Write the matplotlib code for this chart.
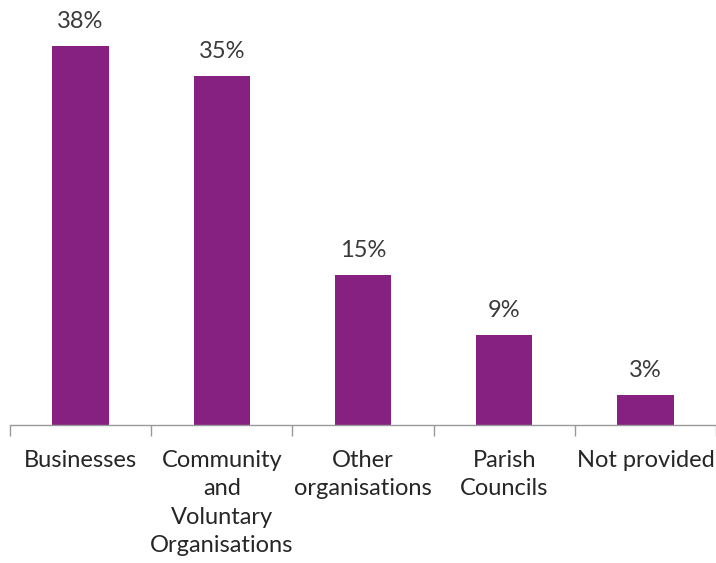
import matplotlib.pyplot as plt
import numpy as np

categories = ["Businesses", "Community\nand\nVoluntary\nOrganisations",
              "Other\norganisations", "Parish\nCouncils", "Not provided"]
shares = [38, 35, 15, 9, 3]

plt.rcParams['font.family'] = ['Lato', 'DejaVu Sans']

fig = plt.figure(figsize=(7.16, 5.63), dpi=100)
ax = fig.add_axes([10 / 716, 138 / 563, 706 / 716, 399 / 563])

x = np.arange(len(categories))
bars = ax.bar(x, shares, width=0.40, color="#862181", zorder=2)

for b, v in zip(bars, shares):
	ax.annotate(f"{v}%", xy=(b.get_x() + b.get_width() / 2, v),
		xytext=(0, 10), textcoords="offset points", ha="center", va="bottom",
		fontsize=17, color="#3a3a3a")

ax.set_xlim(-0.5, 4.48)
ax.set_ylim(0, 40)

# category labels under the axis, tick marks between categories
ax.set_xticks(x)
ax.set_xticklabels(categories, fontsize=17, color="#262626", linespacing=1.43, va="top")
ax.tick_params(axis="x", which="major", length=0, pad=18)
ax.set_xticks(np.arange(-0.5, 4.6, 1.0), minor=True)
ax.tick_params(axis="x", which="minor", length=8, width=1, color="#999999", direction="out")

ax.set_yticks([])
for s in ["top", "right", "left"]:
	ax.spines[s].set_visible(False)
ax.spines["bottom"].set_color("#999999")
ax.spines["bottom"].set_linewidth(1)

fig.savefig("out.png", dpi=100)
